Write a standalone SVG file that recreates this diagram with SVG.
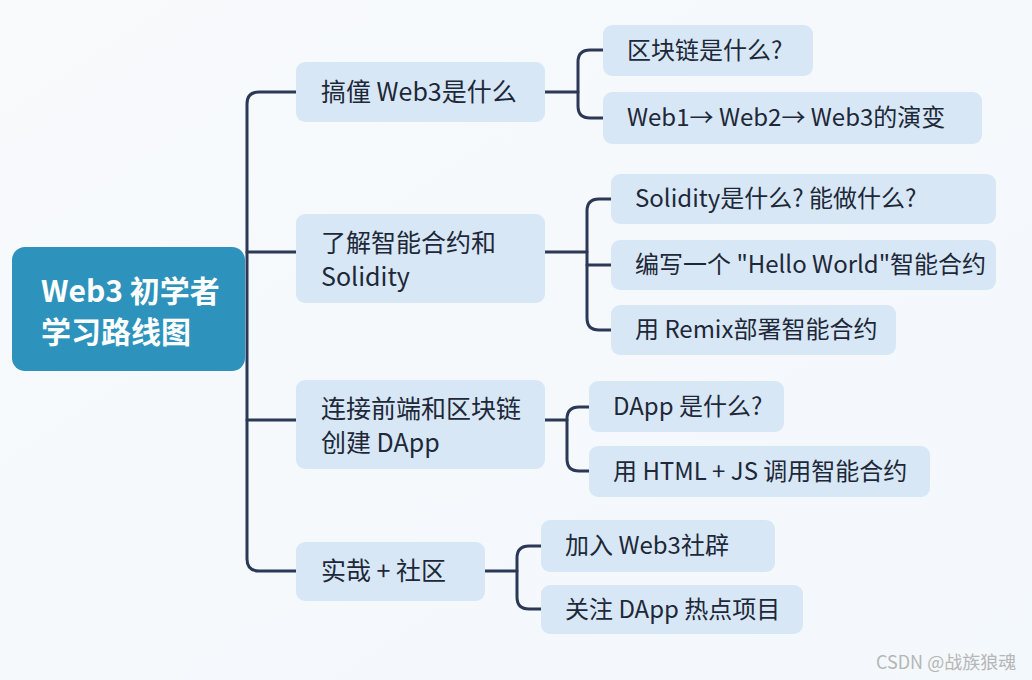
<svg xmlns="http://www.w3.org/2000/svg" width="1032" height="680" viewBox="0 0 1032 680">
<defs>
<linearGradient id="bg" x1="0" y1="0" x2="1" y2="1">
<stop offset="0" stop-color="#f8fafc"/>
<stop offset="1" stop-color="#f3f8fc"/>
</linearGradient>
<style>
.t{font-family:"Noto Sans CJK SC","Noto Sans",sans-serif;fill:#1e2838;}
.l1{font-size:25px;}
.l2{font-size:24px;}
.box{fill:#d7e7f6;}
.root{fill:#2d93bc;}
.rt{font-family:"Noto Sans CJK SC","Noto Sans",sans-serif;font-size:30px;font-weight:700;fill:#ffffff;}
.c{fill:none;stroke:#2b3856;stroke-width:3;stroke-linecap:round;stroke-linejoin:round;}
.wm{font-family:"Noto Sans CJK SC","Liberation Sans",sans-serif;font-size:18px;fill:#b6b6b6;}
</style>
</defs>
<rect width="1032" height="680" fill="url(#bg)"/>

<g id="connectors">
<path class="c" d="M296,92 H259 Q247,92 247,104 V559 Q247,571 259,571 H296"/>
<path class="c" d="M247,252 H296"/>
<path class="c" d="M247,420 H296"/>
<path class="c" d="M545,92 H578"/>
<path class="c" d="M603,50 H590 Q578,50 578,62 V106 Q578,118 590,118 H603"/>
<path class="c" d="M545,252 H587"/>
<path class="c" d="M611,199 H599 Q587,199 587,211 V318 Q587,330 599,330 H611"/>
<path class="c" d="M587,265 H611"/>
<path class="c" d="M545,420 H567"/>
<path class="c" d="M589,407 H579 Q567,407 567,419 V459 Q567,471 579,471 H589"/>
<path class="c" d="M485,571 H517"/>
<path class="c" d="M541,546 H529 Q517,546 517,558 V597 Q517,609 529,609 H541"/>
</g>

<g id="root">
<rect class="root" x="12" y="247" width="233" height="124" rx="13"/>
<text class="rt" x="41" y="302">Web3 初学者</text>
<text class="rt" x="41" y="343">学习路线图</text>
</g>

<g id="n1">
<rect class="box" x="296" y="62" width="249" height="60" rx="9"/>
<text class="t l1" x="321" y="101">搞僮 Web3是什么</text>
</g>
<g id="n2">
<rect class="box" x="296" y="214" width="249" height="89" rx="9"/>
<text class="t l1" x="321" y="252">了解智能合约和</text>
<text class="t l1" x="321" y="286">Solidity</text>
</g>
<g id="n3">
<rect class="box" x="296" y="380" width="249" height="89" rx="9"/>
<text class="t l1" x="321" y="418">连接前端和区块链</text>
<text class="t l1" x="321" y="452">创建 DApp</text>
</g>
<g id="n4">
<rect class="box" x="296" y="542" width="189" height="59" rx="9"/>
<text class="t l1" x="321" y="580">实哉 + 社区</text>
</g>

<g id="n1a">
<rect class="box" x="603" y="25" width="210" height="51" rx="9"/>
<text class="t l2" x="627" y="59">区块链是什么?</text>
</g>
<g id="n1b">
<rect class="box" x="603" y="92" width="379" height="52" rx="9"/>
<text class="t l2" x="627" y="126">Web1→ Web2→ Web3的演变</text>
</g>
<g id="n2a">
<rect class="box" x="611" y="174" width="385" height="50" rx="9"/>
<text class="t l2" x="635" y="207">Solidity是什么? 能做什么?</text>
</g>
<g id="n2b">
<rect class="box" x="611" y="240" width="385" height="50" rx="9"/>
<text class="t l2" x="635" y="273">编写一个 "Hello World"智能合约</text>
</g>
<g id="n2c">
<rect class="box" x="611" y="305" width="285" height="50" rx="9"/>
<text class="t l2" x="635" y="338">用 Remix部署智能合约</text>
</g>
<g id="n3a">
<rect class="box" x="589" y="381" width="195" height="51" rx="9"/>
<text class="t l2" x="613" y="415">DApp 是什么?</text>
</g>
<g id="n3b">
<rect class="box" x="589" y="446" width="341" height="51" rx="9"/>
<text class="t l2" x="613" y="480">用 HTML + JS 调用智能合约</text>
</g>
<g id="n4a">
<rect class="box" x="541" y="520" width="234" height="52" rx="9"/>
<text class="t l2" x="565" y="554">加入 Web3社辟</text>
</g>
<g id="n4b">
<rect class="box" x="541" y="585" width="262" height="49" rx="9"/>
<text class="t l2" x="565" y="618">关注 DApp 热点项目</text>
</g>

<text class="wm" x="876" y="669">CSDN @战族狼魂</text>
</svg>
